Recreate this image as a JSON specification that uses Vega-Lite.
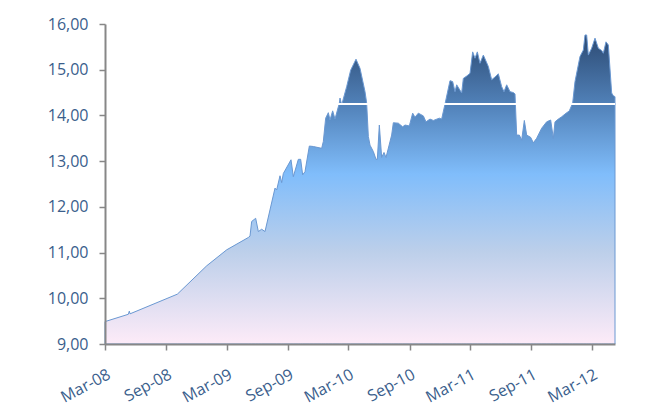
{
  "$schema": "https://vega.github.io/schema/vega-lite/v6.json",
  "width": 510,
  "height": 320,
  "autosize": {"type": "none"},
  "padding": {"left": 105, "top": 24, "right": 40, "bottom": 73},
  "background": "white",
  "config": {"view": {"stroke": null}, "font": "Open Sans"},
  "data": {"values": [
    {"date": "2008-03-01", "value": 9.49},
    {"date": "2008-05-10", "value": 9.65},
    {"date": "2008-05-13", "value": 9.72},
    {"date": "2008-05-15", "value": 9.66},
    {"date": "2008-10-04", "value": 10.09},
    {"date": "2008-12-31", "value": 10.71},
    {"date": "2009-03-01", "value": 11.06},
    {"date": "2009-05-05", "value": 11.33},
    {"date": "2009-05-10", "value": 11.36},
    {"date": "2009-05-15", "value": 11.68},
    {"date": "2009-05-27", "value": 11.75},
    {"date": "2009-06-04", "value": 11.46},
    {"date": "2009-06-14", "value": 11.51},
    {"date": "2009-06-24", "value": 11.46},
    {"date": "2009-07-24", "value": 12.41},
    {"date": "2009-07-29", "value": 12.37},
    {"date": "2009-08-08", "value": 12.68},
    {"date": "2009-08-13", "value": 12.53},
    {"date": "2009-08-18", "value": 12.73},
    {"date": "2009-09-10", "value": 13.03},
    {"date": "2009-09-17", "value": 12.66},
    {"date": "2009-10-02", "value": 13.04},
    {"date": "2009-10-09", "value": 13.04},
    {"date": "2009-10-15", "value": 12.70},
    {"date": "2009-10-22", "value": 12.77},
    {"date": "2009-11-04", "value": 13.33},
    {"date": "2009-11-16", "value": 13.32},
    {"date": "2009-12-11", "value": 13.28},
    {"date": "2009-12-16", "value": 13.43},
    {"date": "2009-12-23", "value": 13.94},
    {"date": "2009-12-31", "value": 14.06},
    {"date": "2010-01-05", "value": 13.90},
    {"date": "2010-01-13", "value": 14.10},
    {"date": "2010-01-20", "value": 13.92},
    {"date": "2010-02-02", "value": 14.27},
    {"date": "2010-02-04", "value": 14.38},
    {"date": "2010-02-09", "value": 14.23},
    {"date": "2010-02-24", "value": 14.63},
    {"date": "2010-03-08", "value": 14.99},
    {"date": "2010-03-24", "value": 15.23},
    {"date": "2010-04-05", "value": 15.03},
    {"date": "2010-04-20", "value": 14.52},
    {"date": "2010-04-25", "value": 14.27},
    {"date": "2010-04-30", "value": 13.54},
    {"date": "2010-05-05", "value": 13.35},
    {"date": "2010-05-15", "value": 13.21},
    {"date": "2010-05-23", "value": 13.04},
    {"date": "2010-05-27", "value": 13.04},
    {"date": "2010-06-02", "value": 13.79},
    {"date": "2010-06-09", "value": 13.08},
    {"date": "2010-06-16", "value": 13.19},
    {"date": "2010-06-22", "value": 13.08},
    {"date": "2010-07-09", "value": 13.57},
    {"date": "2010-07-14", "value": 13.84},
    {"date": "2010-07-29", "value": 13.83},
    {"date": "2010-08-11", "value": 13.75},
    {"date": "2010-08-18", "value": 13.79},
    {"date": "2010-08-31", "value": 13.77},
    {"date": "2010-09-10", "value": 14.05},
    {"date": "2010-09-17", "value": 13.96},
    {"date": "2010-09-27", "value": 14.05},
    {"date": "2010-10-12", "value": 13.99},
    {"date": "2010-10-20", "value": 13.86},
    {"date": "2010-11-01", "value": 13.92},
    {"date": "2010-11-11", "value": 13.89},
    {"date": "2010-11-29", "value": 13.94},
    {"date": "2010-12-06", "value": 13.92},
    {"date": "2010-12-16", "value": 14.25},
    {"date": "2010-12-31", "value": 14.76},
    {"date": "2011-01-08", "value": 14.74},
    {"date": "2011-01-15", "value": 14.52},
    {"date": "2011-01-20", "value": 14.67},
    {"date": "2011-02-04", "value": 14.49},
    {"date": "2011-02-09", "value": 14.81},
    {"date": "2011-02-19", "value": 14.86},
    {"date": "2011-03-01", "value": 14.92},
    {"date": "2011-03-09", "value": 15.39},
    {"date": "2011-03-16", "value": 15.25},
    {"date": "2011-03-23", "value": 15.39},
    {"date": "2011-03-31", "value": 15.14},
    {"date": "2011-04-10", "value": 15.32},
    {"date": "2011-04-25", "value": 15.07},
    {"date": "2011-05-05", "value": 14.78},
    {"date": "2011-05-15", "value": 14.84},
    {"date": "2011-05-25", "value": 14.91},
    {"date": "2011-06-04", "value": 14.63},
    {"date": "2011-06-11", "value": 14.52},
    {"date": "2011-06-19", "value": 14.67},
    {"date": "2011-06-29", "value": 14.52},
    {"date": "2011-07-09", "value": 14.50},
    {"date": "2011-07-14", "value": 14.47},
    {"date": "2011-07-19", "value": 13.57},
    {"date": "2011-07-27", "value": 13.57},
    {"date": "2011-08-03", "value": 13.46},
    {"date": "2011-08-11", "value": 13.89},
    {"date": "2011-08-18", "value": 13.57},
    {"date": "2011-08-30", "value": 13.52},
    {"date": "2011-09-07", "value": 13.40},
    {"date": "2011-09-17", "value": 13.50},
    {"date": "2011-10-02", "value": 13.72},
    {"date": "2011-10-17", "value": 13.86},
    {"date": "2011-10-29", "value": 13.90},
    {"date": "2011-11-06", "value": 13.50},
    {"date": "2011-11-11", "value": 13.86},
    {"date": "2011-11-21", "value": 13.92},
    {"date": "2011-12-01", "value": 13.97},
    {"date": "2011-12-11", "value": 14.03},
    {"date": "2011-12-24", "value": 14.10},
    {"date": "2012-01-03", "value": 14.27},
    {"date": "2012-01-10", "value": 14.74},
    {"date": "2012-01-25", "value": 15.29},
    {"date": "2012-02-04", "value": 15.43},
    {"date": "2012-02-09", "value": 15.76},
    {"date": "2012-02-14", "value": 15.76},
    {"date": "2012-02-19", "value": 15.32},
    {"date": "2012-02-29", "value": 15.47},
    {"date": "2012-03-10", "value": 15.69},
    {"date": "2012-03-20", "value": 15.47},
    {"date": "2012-03-30", "value": 15.42},
    {"date": "2012-04-04", "value": 15.36},
    {"date": "2012-04-12", "value": 15.61},
    {"date": "2012-04-19", "value": 15.54},
    {"date": "2012-04-29", "value": 14.49},
    {"date": "2012-05-04", "value": 14.43},
    {"date": "2012-05-09", "value": 14.41}
  ]},
  "layer": [
    {
      "mark": {
        "type": "area",
        "interpolate": "linear",
        "stroke": "#6a98d2",
        "strokeWidth": 1,
        "fill": {
          "gradient": "linear",
          "x1": 0, "y1": 0, "x2": 0, "y2": 1,
          "stops": [
            {"offset": 0, "color": "#2c4a73"},
            {"offset": 0.22, "color": "#5080b7"},
            {"offset": 0.45, "color": "#80bdfb"},
            {"offset": 0.7, "color": "#bccfea"},
            {"offset": 1, "color": "#fdebf8"}
          ]
        }
      },
      "encoding": {
        "x": {
          "field": "date",
          "type": "temporal",
          "scale": {
            "type": "utc",
            "domain": [
              {"year": 2008, "month": 3, "date": 1, "utc": true},
              {"year": 2012, "month": 5, "date": 9, "utc": true}
            ]
          },
          "axis": {
            "title": null,
            "grid": false,
            "zindex": 1,
            "values": [
              {"year": 2008, "month": 3, "date": 1, "utc": true},
              {"year": 2008, "month": 9, "date": 1, "utc": true},
              {"year": 2009, "month": 3, "date": 1, "utc": true},
              {"year": 2009, "month": 9, "date": 1, "utc": true},
              {"year": 2010, "month": 3, "date": 1, "utc": true},
              {"year": 2010, "month": 9, "date": 1, "utc": true},
              {"year": 2011, "month": 3, "date": 1, "utc": true},
              {"year": 2011, "month": 9, "date": 1, "utc": true},
              {"year": 2012, "month": 3, "date": 1, "utc": true}
            ],
            "labelExpr": "utcFormat(datum.value, '%b-%y')",
            "labelAngle": -28,
            "labelAlign": "right",
            "labelBaseline": "top",
            "labelFontSize": 16,
            "labelColor": "#3a5e8c",
            "labelPadding": 16,
            "labelFlush": false,
            "labelOverlap": false,
            "domainColor": "#878787",
            "domainWidth": 2,
            "tickColor": "#878787",
            "tickWidth": 1.5,
            "tickSize": 6
          }
        },
        "y": {
          "field": "value",
          "type": "quantitative",
          "scale": {"domain": [9, 16], "zero": false, "nice": false},
          "axis": {
            "title": null,
            "grid": false,
            "zindex": 1,
            "values": [9, 9.5, 10, 10.5, 11, 11.5, 12, 12.5, 13, 13.5, 14, 14.5, 15, 15.5, 16],
            "labelExpr": "replace(format(datum.value, '.2f'), '.', ',')",
            "labelFontSize": 16,
            "labelColor": "#3a5e8c",
            "labelPadding": 11,
            "labelFlush": false,
            "labelOverlap": false,
            "domainColor": "#878787",
            "domainWidth": 2,
            "tickColor": "#878787",
            "tickWidth": 1.5,
            "tickSize": 6
          }
        },
        "y2": {"datum": 9}
      }
    },
    {
      "mark": {"type": "rule", "color": "white", "strokeWidth": 1.5},
      "encoding": {"y": {"datum": 14.25}}
    }
  ]
}
